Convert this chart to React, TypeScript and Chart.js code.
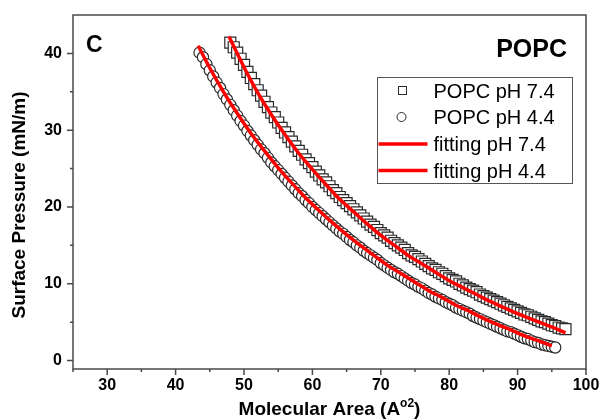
import React, { useEffect, useRef } from "react";
import { Chart, registerables } from "chart.js";

Chart.register(...registerables);

// ---- data ----
const areaPH74 = [
  48, 48.5, 49, 49.5, 50, 50.5, 51, 51.5, 52, 52.5,
  53, 53.5, 54, 54.5, 55, 55.5, 56, 56.5, 57, 57.5,
  58, 58.5, 59, 59.5, 60, 60.5, 61, 61.5, 62, 62.5,
  63, 63.5, 64, 64.5, 65, 65.5, 66, 66.5, 67, 67.5,
  68, 68.5, 69, 69.5, 70, 70.5, 71, 71.5, 72, 72.5,
  73, 73.5, 74, 74.5, 75, 75.5, 76, 76.5, 77, 77.5,
  78, 78.5, 79, 79.5, 80, 80.5, 81, 81.5, 82, 82.5,
  83, 83.5, 84, 84.5, 85, 85.5, 86, 86.5, 87, 87.5,
  88, 88.5, 89, 89.5, 90, 90.5, 91, 91.5, 92, 92.5,
  93, 93.5, 94, 94.5, 95, 95.5, 96, 96.5, 97,
];
const pressurePH74 = [
  41.4, 40.8, 40.1, 39.3, 38.5, 37.6, 36.8, 36.0, 35.2, 34.5,
  33.7, 33.0, 32.3, 31.7, 31.0, 30.3, 29.7, 29.1, 28.5, 27.9,
  27.3, 26.8, 26.2, 25.7, 25.2, 24.6, 24.1, 23.6, 23.2, 22.7,
  22.2, 21.8, 21.3, 20.9, 20.5, 20.1, 19.7, 19.3, 18.9, 18.5,
  18.1, 17.7, 17.4, 17.0, 16.6, 16.3, 16.0, 15.6, 15.3, 15.0,
  14.7, 14.4, 14.0, 13.7, 13.5, 13.2, 12.9, 12.6, 12.3, 12.0,
  11.8, 11.5, 11.3, 11.0, 10.7, 10.5, 10.3, 10.0, 9.8, 9.5,
  9.3, 9.1, 8.9, 8.6, 8.4, 8.2, 8.0, 7.8, 7.6, 7.4,
  7.2, 7.0, 6.8, 6.6, 6.4, 6.2, 6.0, 5.9, 5.7, 5.5,
  5.3, 5.1, 5.0, 4.8, 4.6, 4.5, 4.3, 4.2, 4.1,
];

const areaPH44 = [
  43.5, 44, 44.5, 45, 45.5, 46, 46.5, 47,
  47.5, 48, 48.5, 49, 49.5, 50, 50.5, 51, 51.5, 52,
  52.5, 53, 53.5, 54, 54.5, 55, 55.5, 56, 56.5, 57,
  57.5, 58, 58.5, 59, 59.5, 60, 60.5, 61, 61.5, 62,
  62.5, 63, 63.5, 64, 64.5, 65, 65.5, 66, 66.5, 67,
  67.5, 68, 68.5, 69, 69.5, 70, 70.5, 71, 71.5, 72,
  72.5, 73, 73.5, 74, 74.5, 75, 75.5, 76, 76.5, 77,
  77.5, 78, 78.5, 79, 79.5, 80, 80.5, 81, 81.5, 82,
  82.5, 83, 83.5, 84, 84.5, 85, 85.5, 86, 86.5, 87,
  87.5, 88, 88.5, 89, 89.5, 90, 90.5, 91, 91.5, 92,
  92.5, 93, 93.5, 94, 94.5, 95, 95.5,
];
const pressurePH44 = [
  40.1, 39.5, 38.6, 37.8, 37.0, 36.2, 35.5, 34.7,
  34.0, 33.3, 32.6, 31.9, 31.2, 30.6, 29.9, 29.3, 28.7, 28.1,
  27.5, 27.0, 26.4, 25.8, 25.3, 24.8, 24.3, 23.8, 23.3, 22.8,
  22.3, 21.8, 21.4, 20.9, 20.5, 20.0, 19.6, 19.2, 18.8, 18.4,
  18.0, 17.6, 17.2, 16.8, 16.5, 16.1, 15.7, 15.4, 15.0, 14.7,
  14.3, 14.0, 13.7, 13.4, 13.1, 12.7, 12.4, 12.1, 11.8, 11.5,
  11.3, 11.0, 10.7, 10.4, 10.1, 9.9, 9.6, 9.4, 9.1, 8.8,
  8.6, 8.3, 8.1, 7.9, 7.6, 7.4, 7.2, 6.9, 6.7, 6.5,
  6.3, 6.1, 5.8, 5.6, 5.4, 5.2, 5.0, 4.8, 4.6, 4.4,
  4.2, 4.0, 3.8, 3.7, 3.5, 3.3, 3.1, 2.9, 2.8, 2.6,
  2.4, 2.3, 2.1, 2.0, 1.9, 1.8, 1.7,
];

const fitAreaPH74 = [47.8, 50, 52, 54, 56, 58, 60, 62, 64, 66, 68, 70, 72, 74, 76, 78, 80, 82, 84, 86, 88, 90, 92, 94, 96, 97];
const fitPressurePH74 = [42.2, 38.2, 34.9, 32.0, 29.4, 27.0, 24.9, 22.9, 21.0, 19.4, 17.8, 16.3, 15.0, 13.7, 12.6, 11.5, 10.4, 9.5, 8.6, 7.7, 6.9, 6.1, 5.4, 4.7, 4.0, 3.6];

const fitAreaPH44 = [43.3, 45, 47, 49, 51, 53, 55, 57, 59, 61, 63, 65, 67, 69, 71, 73, 75, 77, 79, 81, 83, 85, 87, 89, 91, 93, 95];
const fitPressurePH44 = [41.0, 38.1, 35.0, 32.2, 29.6, 27.3, 25.1, 23.1, 21.2, 19.5, 17.9, 16.4, 15.0, 13.7, 12.4, 11.3, 10.2, 9.1, 8.2, 7.2, 6.4, 5.5, 4.7, 4.0, 3.2, 2.6, 1.9];

const xTickValues = [25, 30, 35, 40, 45, 50, 55, 60, 65, 70, 75, 80, 85, 90, 95, 100];
const yTickValues = [0, 5, 10, 15, 20, 25, 30, 35, 40];

const seriesLabels = ["POPC pH 7.4", "POPC pH 4.4", "fitting pH 7.4", "fitting pH 4.4"];
const xTitleMain = "Molecular Area (A";
const xTitleSup = "o2";
const xTitleEnd = ")";
const yTitle = "Surface Pressure (mN/m)";
const panelLabel = "C";
const lipidLabel = "POPC";

const FONT = "'Liberation Sans', Arial, Helvetica, sans-serif";
const FRAME = "#4a4a4a";
const MARK = "#2a2a2a";
const FIT = "#ff0000";

const toPoints = (xs: number[], ys: number[]) => xs.map((x, i) => ({ x, y: ys[i] }));

const decorPlugin = {
  id: "decor",
  afterDatasetsDraw(chart: any) {
    const { ctx, chartArea } = chart;
    const xs = chart.scales.x;
    const ys = chart.scales.y;
    ctx.save();
    ctx.strokeStyle = FRAME;
    ctx.lineWidth = 1.5;
    ctx.strokeRect(chartArea.left, chartArea.top, chartArea.right - chartArea.left, chartArea.bottom - chartArea.top);
    ctx.beginPath();
    xs.ticks.forEach((t: any) => {
      const px = xs.getPixelForValue(t.value);
      const len = t.value % 10 === 0 ? 6 : 3;
      ctx.moveTo(px, chartArea.bottom);
      ctx.lineTo(px, chartArea.bottom + len);
    });
    ys.ticks.forEach((t: any) => {
      const py = ys.getPixelForValue(t.value);
      const len = t.value % 10 === 0 ? 6 : 3;
      ctx.moveTo(chartArea.left, py);
      ctx.lineTo(chartArea.left - len, py);
    });
    ctx.stroke();
    ctx.restore();
  },
  afterDraw(chart: any) {
    const { ctx, chartArea } = chart;
    ctx.save();
    ctx.fillStyle = "#000";

    // panel labels
    ctx.font = `bold 23px ${FONT}`;
    ctx.textAlign = "left";
    ctx.textBaseline = "alphabetic";
    ctx.fillText(panelLabel, chartArea.left + 13, chartArea.top + 37);
    ctx.font = `bold 25px ${FONT}`;
    ctx.textAlign = "right";
    ctx.fillText(lipidLabel, chartArea.right - 19, chartArea.top + 42);

    // legend
    const bx = chartArea.right - 208.5;
    const by = chartArea.top + 62.5;
    const bw = 195;
    const bh = 106;
    ctx.fillStyle = "#fff";
    ctx.fillRect(bx, by, bw, bh);
    ctx.strokeStyle = "#555";
    ctx.lineWidth = 1;
    ctx.strokeRect(bx, by, bw, bh);
    const rows = [by + 13, by + 39.5, by + 66.5, by + 93];
    const symX = bx + 25;
    ctx.strokeStyle = MARK;
    ctx.lineWidth = 1;
    ctx.strokeRect(symX - 4, rows[0] - 4, 8, 8);
    ctx.beginPath();
    ctx.arc(symX - 1, rows[1], 4.5, 0, Math.PI * 2);
    ctx.stroke();
    ctx.strokeStyle = FIT;
    ctx.lineWidth = 3.5;
    [rows[2], rows[3]].forEach((ry) => {
      ctx.beginPath();
      ctx.moveTo(bx + 1, ry);
      ctx.lineTo(bx + 50, ry);
      ctx.stroke();
    });
    ctx.fillStyle = "#000";
    ctx.font = `20px ${FONT}`;
    ctx.textAlign = "left";
    ctx.textBaseline = "alphabetic";
    seriesLabels.forEach((label, i) => {
      ctx.fillText(label, bx + 56, rows[i] + 7);
    });

    // x title with superscript
    const cx = (chartArea.left + chartArea.right) / 2;
    ctx.font = `bold 19px ${FONT}`;
    const w1 = ctx.measureText(xTitleMain).width;
    const w3 = ctx.measureText(xTitleEnd).width;
    ctx.font = `bold 12px ${FONT}`;
    const w2 = ctx.measureText(xTitleSup).width;
    let sx = cx - (w1 + w2 + w3) / 2;
    const base = 415;
    ctx.font = `bold 19px ${FONT}`;
    ctx.fillText(xTitleMain, sx, base);
    sx += w1;
    ctx.font = `bold 12px ${FONT}`;
    ctx.fillText(xTitleSup, sx, base - 8);
    sx += w2;
    ctx.font = `bold 19px ${FONT}`;
    ctx.fillText(xTitleEnd, sx, base);

    // y title
    ctx.translate(20, 205);
    ctx.rotate(-Math.PI / 2);
    ctx.textAlign = "center";
    ctx.textBaseline = "middle";
    ctx.font = `bold 19px ${FONT}`;
    ctx.fillText(yTitle, 0, 0);
    ctx.restore();
  },
};

export default function App() {
  const canvasRef = useRef<HTMLCanvasElement | null>(null);

  useEffect(() => {
    if (!canvasRef.current) return;
    const chart = new Chart(canvasRef.current, {
      type: "scatter",
      data: {
        datasets: [
          {
            label: seriesLabels[0],
            data: toPoints(areaPH74, pressurePH74),
            pointStyle: "rect",
            pointRadius: 7.8,
            pointBorderWidth: 1.2,
            borderColor: MARK,
            backgroundColor: "#ffffff",
            showLine: false,
            order: 2,
          },
          {
            label: seriesLabels[1],
            data: toPoints(areaPH44, pressurePH44),
            pointStyle: "circle",
            pointRadius: 5.6,
            pointBorderWidth: 1.2,
            borderColor: MARK,
            backgroundColor: "#ffffff",
            showLine: false,
            order: 1,
          },
          {
            label: seriesLabels[2],
            data: toPoints(fitAreaPH74, fitPressurePH74),
            showLine: true,
            pointRadius: 0,
            borderColor: FIT,
            borderWidth: 3.5,
            cubicInterpolationMode: "monotone",
            order: 0,
          },
          {
            label: seriesLabels[3],
            data: toPoints(fitAreaPH44, fitPressurePH44),
            showLine: true,
            pointRadius: 0,
            borderColor: FIT,
            borderWidth: 3.5,
            cubicInterpolationMode: "monotone",
            order: 0,
          },
        ],
      },
      options: {
        animation: false,
        responsive: true,
        maintainAspectRatio: false,
        layout: { padding: { left: 0, right: 16, top: 15, bottom: 0 } },
        plugins: {
          legend: { display: false },
          tooltip: { enabled: false },
        },
        scales: {
          x: {
            type: "linear",
            min: 25,
            max: 100,
            afterBuildTicks: (scale: any) => {
              scale.ticks = xTickValues.map((v) => ({ value: v }));
            },
            afterFit: (scale: any) => {
              scale.height = 51;
            },
            grid: { display: false, drawTicks: true, tickLength: 6 },
            border: { display: false },
            ticks: {
              autoSkip: false,
              maxRotation: 0,
              padding: 1,
              color: "#000",
              font: { family: FONT, size: 16, weight: "bold" },
              callback: (v: any) => (Number(v) % 10 === 0 ? String(v) : ""),
            },
          },
          y: {
            type: "linear",
            min: -1.1,
            max: 45,
            afterBuildTicks: (scale: any) => {
              scale.ticks = yTickValues.map((v) => ({ value: v }));
            },
            afterFit: (scale: any) => {
              scale.width = 73;
            },
            grid: { display: false, drawTicks: true, tickLength: 6 },
            border: { display: false },
            ticks: {
              autoSkip: false,
              padding: 5,
              color: "#000",
              font: { family: FONT, size: 16, weight: "bold" },
              callback: (v: any) => (Number(v) % 10 === 0 ? String(v) : ""),
            },
          },
        },
      },
      plugins: [decorPlugin],
    } as any);
    return () => chart.destroy();
  }, []);

  return (
    <div style={{ position: "absolute", left: 0, top: 0, width: 602, height: 420, background: "#fff" }}>
      <canvas ref={canvasRef} />
    </div>
  );
}
